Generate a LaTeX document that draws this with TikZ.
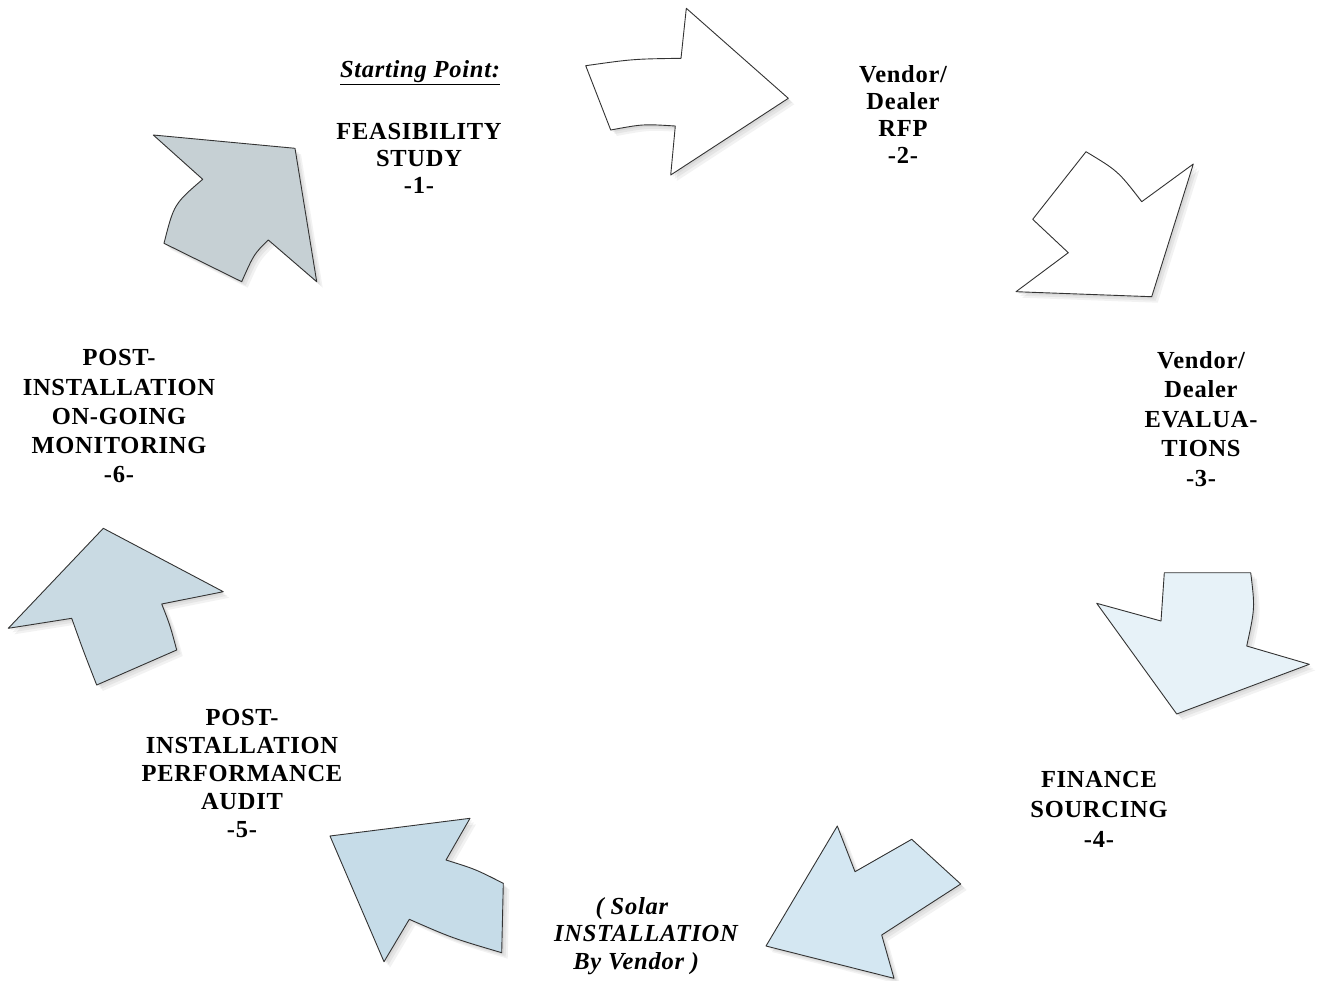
\documentclass[tikz,border=0pt]{standalone}
\usepackage{fontspec}
\setmainfont{Liberation Serif}[LetterSpace=3]
\definecolor{cA}{HTML}{C6D0D4}
\definecolor{cB}{HTML}{C9DAE3}
\definecolor{cC}{HTML}{C6DCE8}
\definecolor{cD}{HTML}{D4E7F2}
\definecolor{cE}{HTML}{E7F2F8}
\definecolor{edge}{HTML}{333333}
\newcommand\arwOne{(585.7,65.7) .. controls (633,59) .. (681,58.3) -- (686.3,8.3) -- (788.3,98.3) -- (670.7,175) -- (675.3,126) .. controls (643,124) .. (610.7,130) -- cycle}
\newcommand\arwTwo{(1086,151.7) .. controls (1118,171) .. (1141.7,201.7) -- (1193.3,164) -- (1151.7,296.7) -- (1016,291.7) -- (1068.3,252.7) -- (1032.7,219.3) -- cycle}
\newcommand\arwThree{(1164.3,572.7) -- (1250.7,572.7) .. controls (1255,608) .. (1246.7,646) -- (1309.3,664.3) -- (1176.7,714) -- (1096.7,603.3) -- (1161,621) -- cycle}
\newcommand\arwFour{(837.3,826) -- (855,871.7) -- (911.7,839.3) -- (960.7,884) -- (881.7,935) -- (894,978.3) -- (766,946) -- cycle}
\newcommand\arwFive{(330,836) -- (470,818.3) -- (446,860) .. controls (475,869) .. (503.3,883.3) -- (501.7,952.7) .. controls (452,938) .. (409.3,919.3) -- (384,961.7) -- cycle}
\newcommand\arwSix{(103.3,528.3) -- (223.3,591.7) -- (161.7,604) .. controls (170,625) .. (176.7,650) -- (96.7,685) .. controls (83,650) .. (71.7,618.3) -- (8.3,628.3) -- cycle}
\newcommand\arwSeven{(153.3,135) -- (295,148.3) -- (316.7,281.7) -- (268.3,240) .. controls (254,254) .. (241.7,281.7) -- (164,243.3) .. controls (174,204) .. (202.7,179.3) -- cycle}
\tikzset{
  shape fill/.style={fill=#1, draw=edge, line width=0.9pt, line join=round},
  soft shadow/.style={fill=black, fill opacity=0.05, draw=none},
  label text/.style={font=\bfseries\fontsize{24.5}{27}\selectfont, align=center, inner sep=0pt},
}
\begin{document}
\begin{tikzpicture}[x=1pt,y=-1pt]
\useasboundingbox[fill=white] (0,0) rectangle (1321,980);
% shadows
\foreach \d in {2,4,6}{
  \fill[soft shadow, shift={(\d,\d)}] \arwOne;
  \fill[soft shadow, shift={(\d,\d)}] \arwTwo;
  \fill[soft shadow, shift={(\d,\d)}] \arwThree;
  \fill[soft shadow, shift={(\d,\d)}] \arwFour;
  \fill[soft shadow, shift={(\d,\d)}] \arwFive;
  \fill[soft shadow, shift={(\d,\d)}] \arwSix;
  \fill[soft shadow, shift={(\d,\d)}] \arwSeven;
}
% arrows
\filldraw[shape fill=white] \arwOne;
\filldraw[shape fill=white] \arwTwo;
\filldraw[shape fill=cE] \arwThree;
\filldraw[shape fill=cD] \arwFour;
\filldraw[shape fill=cC] \arwFive;
\filldraw[shape fill=cB] \arwSix;
\filldraw[shape fill=cA] \arwSeven;
% labels
\node[label text, font=\bfseries\itshape\fontsize{24.5}{27}\selectfont] (start) at (420,73) {\underline{Starting Point:}};
\node[label text] (feas) at (419,158) {FEASIBILITY\\STUDY\\-1-};
\node[label text] (rfp) at (903,114) {Vendor/\\Dealer\\RFP\\-2-};
\node[label text, font=\bfseries\fontsize{24.5}{29.5}\selectfont] (eval) at (1201,419) {Vendor/\\Dealer\\EVALUA-\\TIONS\\-3-};
\node[label text, font=\bfseries\fontsize{24.5}{30}\selectfont] (fin) at (1099,809) {FINANCE\\SOURCING\\-4-};
\node[label text, font=\bfseries\itshape\fontsize{24.5}{27.5}\selectfont] (inst) at (646,936) {(\;Solar\hspace*{1.15em}\\INSTALLATION\\By Vendor\;)\hspace*{0.8em}};
\node[label text, font=\bfseries\fontsize{24.5}{28}\selectfont] (audit) at (242,773) {POST-\\INSTALLATION\\PERFORMANCE\\AUDIT\\-5-};
\node[label text, font=\bfseries\fontsize{24.5}{29}\selectfont] (mon) at (119,416) {POST-\\INSTALLATION\\ON-GOING\\MONITORING\\-6-};
\end{tikzpicture}
\end{document}
